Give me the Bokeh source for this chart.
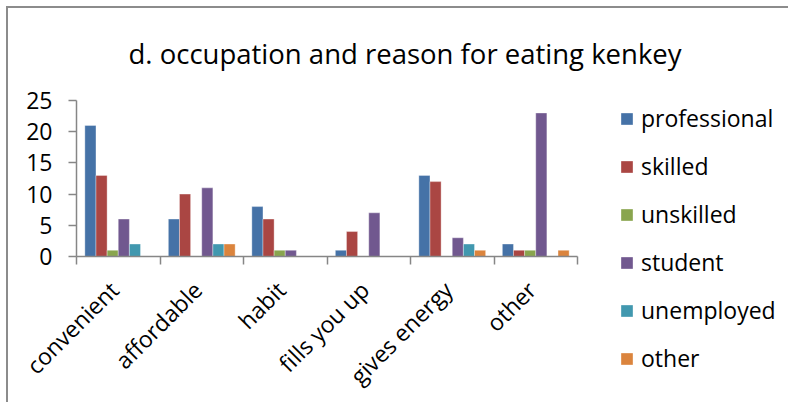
import math
from bokeh.plotting import figure
from bokeh.models import (ColumnDataSource, Range1d, FixedTicker, Legend, LegendItem,
                          LinearAxis)
from bokeh.transform import dodge
from bokeh.embed import file_html
from bokeh.resources import INLINE

# ---- data ----
categories = ["convenient", "affordable", "habit", "fills you up", "gives energy", "other"]
series_names = ["professional", "skilled", "unskilled", "student", "unemployed", "other"]
professional = [21, 6, 8, 1, 13, 2]
skilled = [13, 10, 6, 4, 12, 1]
unskilled = [1, 0, 1, 0, 0, 1]
student = [6, 11, 1, 7, 3, 23]
unemployed = [2, 2, 0, 0, 2, 0]
other = [0, 2, 0, 0, 1, 1]
y_ticks = [0, 5, 10, 15, 20, 25]
title_text = "d. occupation and reason for eating kenkey"

colors = ["#4572A7", "#AA4643", "#89A54E", "#71588F", "#4198AF", "#DB843D"]
FONT = "Open Sans"
AXIS_COLOR = "#868686"

centers = [i + 0.5 for i in range(len(categories))]
label_pos = [c - 0.05 for c in centers]
source = ColumnDataSource(data=dict(
    xc=centers,
    professional=professional, skilled=skilled, unskilled=unskilled,
    student=student, unemployed=unemployed, other=other,
))

p = figure(frame_width=501, frame_height=156, output_backend="svg", toolbar_location=None,
           x_range=Range1d(0, len(categories)), y_range=Range1d(0, 25),
           x_axis_type=None, y_axis_type=None,
           min_border_left=68, min_border_right=211, min_border_top=92, min_border_bottom=146)
p.outline_line_color = None
p.xgrid.visible = False
p.ygrid.visible = False
p.background_fill_color = "white"
p.border_fill_color = "white"
p.styles = {"margin-left": "6px", "margin-top": "6px",
            "border-left": "2px solid #8c8c8c", "border-top": "2px solid #8c8c8c"}

p.title.text = title_text
p.title.align = "left"
p.title.offset = 52
p.title.vertical_align = "top"
p.title.standoff = 53
p.title.text_font = FONT
p.title.text_font_size = "27.5px"
p.title.text_font_style = "normal"
p.title.text_color = "black"

bw = 1 / 7.5
cols = ["professional", "skilled", "unskilled", "student", "unemployed", "other"]
items = []
for j, (col, name) in enumerate(zip(cols, series_names)):
    r = p.vbar(x=dodge("xc", (j - 2.5) * bw), top=col, width=bw, bottom=0, source=source,
               fill_color=colors[j], line_color="white", line_alpha=0.35, line_width=1)
    items.append(LegendItem(label=name, renderers=[r]))

# x axis: labels near centers, ticks at category boundaries (minor ticks)
xaxis = LinearAxis(ticker=FixedTicker(ticks=label_pos, minor_ticks=list(range(len(categories) + 1))))
xaxis.major_label_overrides = {c: lab for c, lab in zip(label_pos, categories)}
xaxis.major_label_orientation = math.pi / 4
xaxis.major_tick_in = 0
xaxis.major_tick_out = 0
xaxis.minor_tick_in = 0
xaxis.minor_tick_out = 8
xaxis.minor_tick_line_color = AXIS_COLOR
xaxis.minor_tick_line_width = 1.5
xaxis.axis_line_color = AXIS_COLOR
xaxis.axis_line_width = 1.5
xaxis.major_label_text_font = FONT
xaxis.major_label_text_font_size = "23px"
xaxis.major_label_text_color = "black"
xaxis.major_label_standoff = 21
p.add_layout(xaxis, "below")

yaxis = LinearAxis(ticker=FixedTicker(ticks=y_ticks, minor_ticks=[]))
yaxis.major_tick_in = 0
yaxis.major_tick_out = 8
yaxis.major_tick_line_color = AXIS_COLOR
yaxis.major_tick_line_width = 1.5
yaxis.axis_line_color = AXIS_COLOR
yaxis.axis_line_width = 1.5
yaxis.minor_tick_line_color = None
yaxis.major_label_text_font = FONT
yaxis.major_label_text_font_size = "23px"
yaxis.major_label_text_color = "black"
yaxis.major_label_standoff = 16
p.add_layout(yaxis, "left")

legend = Legend(items=items, location=(42, -118), orientation="vertical",
                glyph_width=15, glyph_height=15, label_standoff=7,
                label_text_font=FONT, label_text_font_size="23px", label_text_color="black",
                spacing=16, padding=0, margin=0, border_line_color=None,
                background_fill_alpha=0)
p.add_layout(legend, "right")

open("out.html", "w").write(file_html(p, INLINE))
